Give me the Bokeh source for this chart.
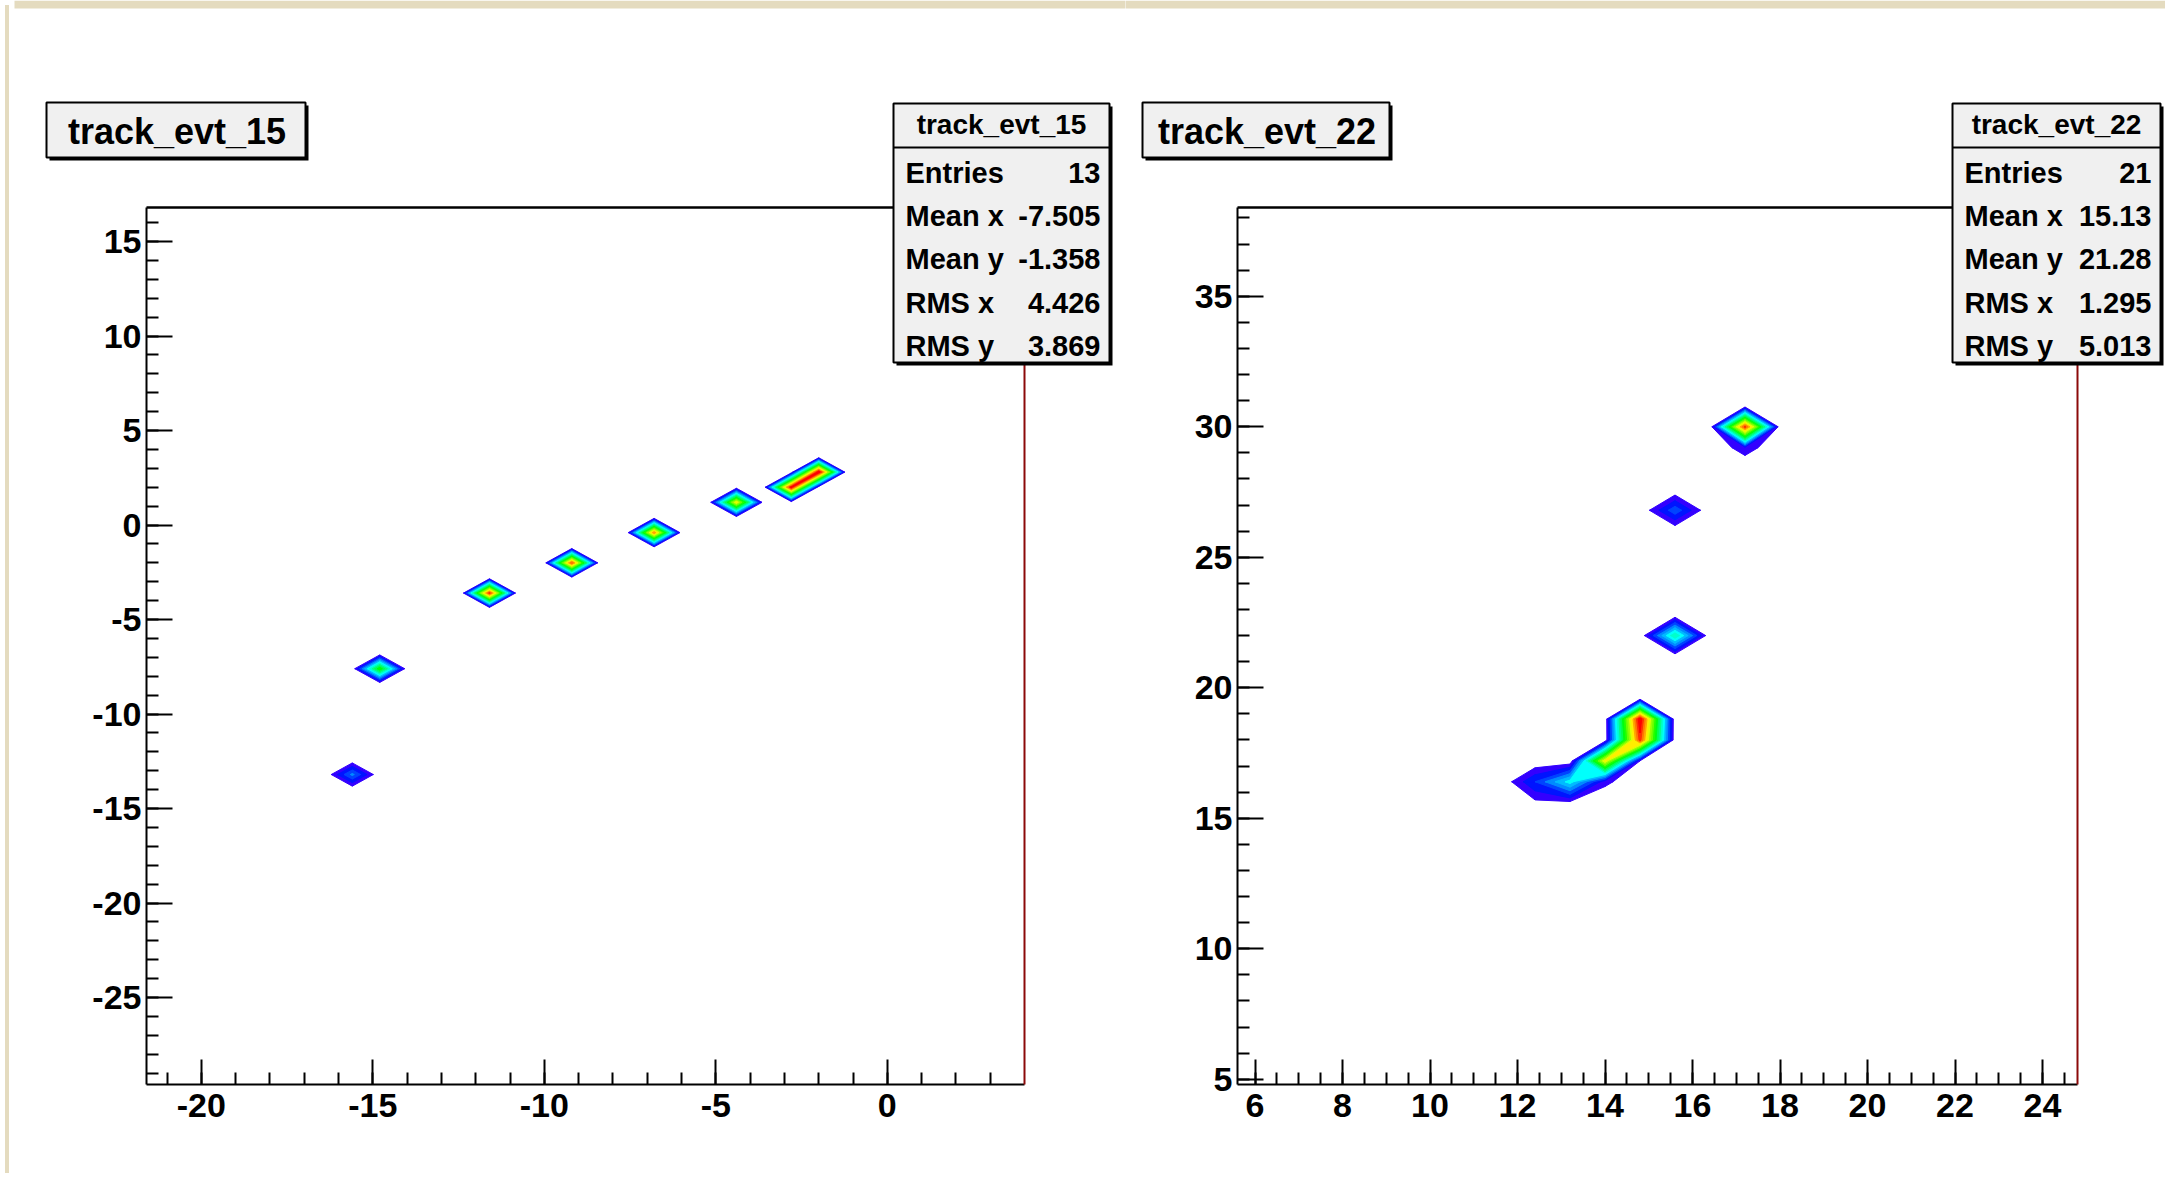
import colorsys
import numpy as np
from bokeh.plotting import figure
from bokeh.models import (Range1d, FixedTicker, LinearAxis, BoxAnnotation, Label,
                          ColumnDataSource, Div)
from bokeh.layouts import row
from bokeh.embed import file_html
from bokeh.resources import INLINE

# ---------------------------------------------------------------- data
BIN_SIZE = 0.8
N_CONTOURS = 20

# histogram track_evt_15
evt15_xrange = [-21.6, 4.0]
evt15_yrange = [-29.6, 16.8]
evt15_bin_x = [-15.6, -14.8, -11.6, -9.2, -6.8, -4.4, -2.8, -2.0]
evt15_bin_y = [-13.2, -7.6, -3.6, -2.0, -0.4, 1.2, 2.0, 2.8]
evt15_bin_z = [4.3, 11.0, 18.5, 18.0, 17.0, 15.0, 19.5, 20.0]
evt15_stats = ["13", "-7.505", "-1.358", "4.426", "3.869"]
evt15_xticks = [-20, -15, -10, -5, 0]
evt15_yticks = [-25, -20, -15, -10, -5, 0, 5, 10, 15]

# histogram track_evt_22
evt22_xrange = [5.6, 24.8]
evt22_yrange = [4.8, 38.4]
evt22_bin_x = [17.2, 17.2, 15.6, 15.6, 12.4, 13.2, 14.0, 14.0, 14.8, 14.8, 14.8, 12.4, 13.2]
evt22_bin_y = [30.0, 29.2, 26.8, 22.0, 16.4, 16.4, 16.4, 17.2, 17.2, 18.0, 18.8, 15.6, 15.6]
evt22_bin_z = [18.5, 1.6, 3.7, 8.0, 3.0, 6.5, 1.3, 15.0, 1.0, 18.5, 20.0, 0.7, 0.7]
evt22_stats = ["21", "15.13", "21.28", "1.295", "5.013"]
evt22_xticks = [6, 8, 10, 12, 14, 16, 18, 20, 22, 24]
evt22_yticks = [5, 10, 15, 20, 25, 30, 35]

stat_names = ["Entries", "Mean x", "Mean y", "RMS x", "RMS y"]

# ---------------------------------------------------------------- style
PAGE_BG = "#e4dbbf"
BOX_FILL = "#f0f0f0"
FRAME_RED = "#8c0a0a"
FONT = "Liberation Sans"
BASELINE_FIX = 0.34   # label baseline correction (fraction of font size)


def root_pretty_palette(n=50):
    cols = []
    for i in range(n):
        hue = 280.0 - (i + 1) * (280.0 / n)
        r, g, b = colorsys.hls_to_rgb(hue / 360.0, 0.5, 1.0)
        cols.append("#%02x%02x%02x" % (round(r * 255), round(g * 255), round(b * 255)))
    return cols


PALETTE = root_pretty_palette(50)
BAND_COLORS = [PALETTE[min(49, int((k + 0.99) * 50 / N_CONTOURS))] for k in range(N_CONTOURS)]


def build_grid(xr, yr, bx, by, bz):
    nx = int(round((xr[1] - xr[0]) / BIN_SIZE))
    ny = int(round((yr[1] - yr[0]) / BIN_SIZE))
    z = np.zeros((ny, nx))
    for x, y, w in zip(bx, by, bz):
        i = int(round((x - xr[0]) / BIN_SIZE - 0.5))
        j = int(round((y - yr[0]) / BIN_SIZE - 0.5))
        z[j, i] += w
    xc = xr[0] + (np.arange(nx) + 0.5) * BIN_SIZE
    yc = yr[0] + (np.arange(ny) + 0.5) * BIN_SIZE
    return xc, yc, z


def contour_polys(xc, yc, z):
    """Filled contours drawn cell by cell (ROOT CONT style)."""
    zmax = z.max()
    levels = [zmax * k / N_CONTOURS for k in range(1, N_CONTOURS)]
    ny, nx = z.shape
    xs, ys, cols = [], [], []
    for k, L in enumerate(levels, start=1):
        for j in range(ny - 1):
            for i in range(nx - 1):
                cz = [z[j, i], z[j, i + 1], z[j + 1, i + 1], z[j + 1, i]]
                if max(cz) < L:
                    continue
                cx = [xc[i], xc[i + 1], xc[i + 1], xc[i]]
                cy = [yc[j], yc[j], yc[j + 1], yc[j + 1]]
                px, py = [], []
                for a in range(4):
                    b = (a + 1) % 4
                    if cz[a] >= L:
                        px.append(cx[a]); py.append(cy[a])
                    if (cz[a] - L) * (cz[b] - L) < 0:
                        t = (L - cz[a]) / (cz[b] - cz[a])
                        px.append(cx[a] + t * (cx[b] - cx[a]))
                        py.append(cy[a] + t * (cy[b] - cy[a]))
                if len(px) >= 3:
                    xs.append(px); ys.append(py); cols.append(BAND_COLORS[k])
    return xs, ys, cols


# page layout (pixels)
CANVAS_TOP = 0
FIG_H = 1168
FRAME_TOP = 207
FRAME_BOTTOM = 1084


def make_panel(name, x0_page, width, frame_l, frame_r, xr, yr, bx, by, bz,
               xticks, xminor, yticks, yminor, stats, title_box, stat_box):
    sx = (frame_r - frame_l) / (xr[1] - xr[0])
    sy = (FRAME_BOTTOM - FRAME_TOP) / (yr[1] - yr[0])
    x_start = xr[0] - (frame_l - x0_page) / sx
    x_end = xr[1] + (x0_page + width - frame_r) / sx
    y_end = yr[1] + (FRAME_TOP - CANVAS_TOP) / sy
    y_start = yr[0] - (CANVAS_TOP + FIG_H - FRAME_BOTTOM) / sy

    p = figure(width=width, height=FIG_H,
               x_range=Range1d(x_start, x_end), y_range=Range1d(y_start, y_end),
               output_backend="svg", toolbar_location=None,
               x_axis_location=None, y_axis_location=None,
               min_border=0)
    p.outline_line_color = None
    p.grid.visible = False
    p.background_fill_color = "white"
    p.border_fill_color = "white"

    def to_data(X, Y):
        return x_start + (X - x0_page) / sx, y_end - (Y - CANVAS_TOP) / sy

    # contours of the 2D histogram
    xc, yc, z = build_grid(xr, yr, bx, by, bz)
    xs, ys, cols = contour_polys(xc, yc, z)
    src = ColumnDataSource(dict(xs=xs, ys=ys, c=cols))
    p.patches("xs", "ys", source=src, fill_color="c", line_color="c", line_width=1)

    # axes of the frame
    def tick_axis(loc, bounds, ticks, minor, tin, tmin, standoff):
        return LinearAxis(fixed_location=loc, bounds=tuple(bounds),
                          ticker=FixedTicker(ticks=ticks, minor_ticks=minor),
                          major_label_overrides={t: str(t) for t in ticks},
                          axis_line_color="black", axis_line_width=2,
                          major_tick_line_color="black", major_tick_line_width=2,
                          minor_tick_line_color="black", minor_tick_line_width=2,
                          major_tick_in=tin, major_tick_out=0,
                          minor_tick_in=tmin, minor_tick_out=0,
                          major_label_text_font=FONT, major_label_text_font_style="bold",
                          major_label_text_font_size="34px",
                          major_label_text_color="black",
                          major_label_standoff=standoff)

    p.add_layout(tick_axis(yr[0], xr, xticks, xminor, 25, 12, 9), "below")
    p.add_layout(tick_axis(xr[0], yr, yticks, yminor, 26, 12, 5), "left")

    def plain_axis(loc, bounds, color, lw):
        return LinearAxis(fixed_location=loc, bounds=tuple(bounds),
                          ticker=FixedTicker(ticks=[]), axis_line_color=color,
                          axis_line_width=lw, major_tick_in=0, major_tick_out=0,
                          minor_tick_in=0, minor_tick_out=0,
                          major_label_text_font_size="0px")

    p.add_layout(plain_axis(yr[1], xr, "black", 2.5), "above")
    p.add_layout(plain_axis(xr[1], yr, FRAME_RED, 2), "right")

    def box(L, R, T, B, fill, line_color=None, line_width=0):
        l, t = to_data(L, T)
        r, b = to_data(R, B)
        p.add_layout(BoxAnnotation(left=l, right=r, top=t, bottom=b,
                                   fill_color=fill, fill_alpha=1.0,
                                   line_color=line_color, line_width=line_width,
                                   line_alpha=1.0 if line_color else 0.0))

    def label(X, Y, text, size, align, style="bold"):
        x, y = to_data(X, Y - BASELINE_FIX * size)
        p.add_layout(Label(x=x, y=y, text=text, text_font=FONT,
                           text_font_size="%dpx" % size, text_font_style=style,
                           text_align=align, text_baseline="alphabetic",
                           text_color="black"))

    # beige band of the page above the canvas
    box(x0_page - 1, x0_page + width + 1, CANVAS_TOP, 8, PAGE_BG)

    # title box
    L, R, T, B = title_box
    box(L + 3, R + 3, T + 3, B + 3, "black")
    box(L, R, T, B, BOX_FILL, "black", 2)
    label((L + R) / 2 + 1, 143.5, name, 36, "center")

    # stats box
    L, R, T, B = stat_box
    box(L + 3, R + 3, T + 3, B + 3, "black")
    box(L, R, T, B, BOX_FILL, "black", 2)
    box(L, R, 146, 148, "black")
    label((L + R) / 2, 134, name, 28, "center")
    for k, (nm, val) in enumerate(zip(stat_names, stats)):
        yb = 182.3 + 43.2 * k
        label(L + 12, yb, nm, 29, "left")
        label(R - 9, yb, val, 29, "right")
    return p


p1 = make_panel("track_evt_15", 12, 1111, 144, 1022, evt15_xrange, evt15_yrange,
                evt15_bin_x, evt15_bin_y, evt15_bin_z,
                evt15_xticks, list(range(-21, 4)), evt15_yticks, list(range(-29, 17)),
                evt15_stats, (44, 303, 102, 157), (891, 1107, 103, 362))
p2 = make_panel("track_evt_22", 1123, 1040, 1235, 2075, evt22_xrange, evt22_yrange,
                evt22_bin_x, evt22_bin_y, evt22_bin_z,
                evt22_xticks, [6 + 0.5 * k for k in range(38)], evt22_yticks,
                list(range(5, 39)), evt22_stats, (1140, 1387, 102, 157), (1950, 2158, 103, 362))

strip = Div(width=4, height=FIG_H, styles={"background-color": PAGE_BG})
layout = row(strip, p1, p2, spacing=0)

open("out.html", "w").write(file_html(layout, INLINE))
